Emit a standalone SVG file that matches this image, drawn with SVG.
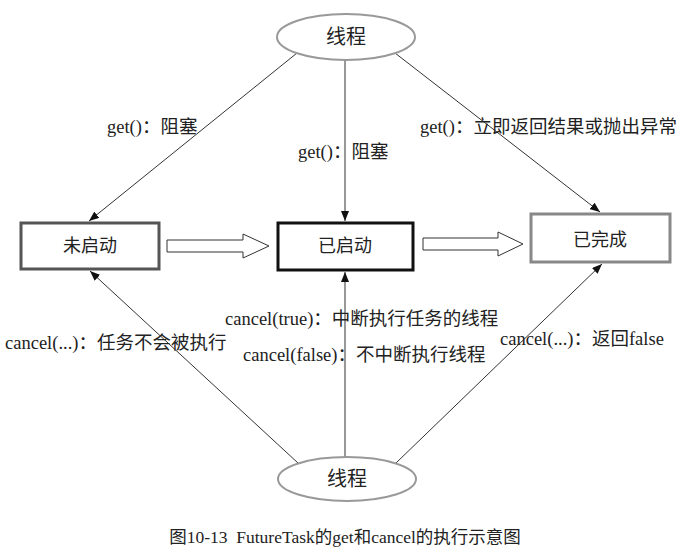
<svg xmlns="http://www.w3.org/2000/svg" width="692" height="554" viewBox="0 0 692 554">
<defs>
<marker id="ah" viewBox="0 0 10 8" refX="10" refY="4" markerWidth="10" markerHeight="8" markerUnits="userSpaceOnUse" orient="auto">
<path d="M0,0 L10,4 L0,8 Z" fill="#111"/>
</marker>
<style>
.lbl{font-family:"Liberation Serif","Noto Sans CJK SC",serif;font-size:18.5px;fill:#222}
.node{font-family:"Noto Sans CJK SC",sans-serif;font-size:18px;fill:#222;text-anchor:middle}
.conn{stroke:#333;stroke-width:1;fill:none;marker-end:url(#ah)}
.ell{fill:#fff;stroke:#999;stroke-width:2}
.hollow{fill:#fff;stroke:#333;stroke-width:1}
</style>
</defs>
<rect width="692" height="554" fill="#fff"/>
<g id="connectors">
<line class="conn" x1="297" y1="53" x2="89" y2="221"/>
<line class="conn" x1="345" y1="60" x2="345" y2="221"/>
<line class="conn" x1="395" y1="53" x2="600" y2="212"/>
<line class="conn" x1="298" y1="463" x2="90" y2="271"/>
<line class="conn" x1="345" y1="457" x2="345" y2="272"/>
<line class="conn" x1="396" y1="463" x2="602" y2="264"/>
<polygon class="hollow" points="167,240 243,240 243,234 269,246 243,258 243,252 167,252"/>
<polygon class="hollow" points="423,238 498,238 498,232 523,244 498,256 498,250 423,250"/>
</g>
<g id="thread-top">
<ellipse class="ell" cx="346" cy="37" rx="69" ry="23"/>
<text class="node" x="346" y="44" style="font-size:20px">线程</text>
</g>
<g id="thread-bottom">
<ellipse class="ell" cx="347" cy="479" rx="69" ry="22"/>
<text class="node" x="347" y="486" style="font-size:20px">线程</text>
</g>
<g id="not-started">
<rect x="21" y="223" width="138" height="46" fill="#fff" stroke="#555" stroke-width="3"/>
<text class="node" x="90" y="252">未启动</text>
</g>
<g id="started">
<rect x="278" y="223" width="135" height="47" fill="#fff" stroke="#111" stroke-width="3"/>
<text class="node" x="345" y="252">已启动</text>
</g>
<g id="completed">
<rect x="531" y="214" width="139" height="48" fill="#fff" stroke="#888" stroke-width="3"/>
<text class="node" x="600" y="246">已完成</text>
</g>
<g id="labels">
<text class="lbl" x="107" y="133">get()：阻塞</text>
<text class="lbl" x="298" y="158">get()：阻塞</text>
<text class="lbl" x="420" y="133">get()：立即返回结果或抛出异常</text>
<text class="lbl" x="225" y="325">cancel(true)：中断执行任务的线程</text>
<text class="lbl" x="5" y="349">cancel(...)：任务不会被执行</text>
<text class="lbl" x="243" y="361">cancel(false)：不中断执行线程</text>
<text class="lbl" x="500" y="345">cancel(...)：返回false</text>
</g>
<text x="345" y="543" text-anchor="middle" style="font-family:'Liberation Serif','Noto Sans CJK SC',serif;font-size:17.5px;fill:#222">图10-13&#160;&#160;FutureTask的get和cancel的执行示意图</text>
</svg>
